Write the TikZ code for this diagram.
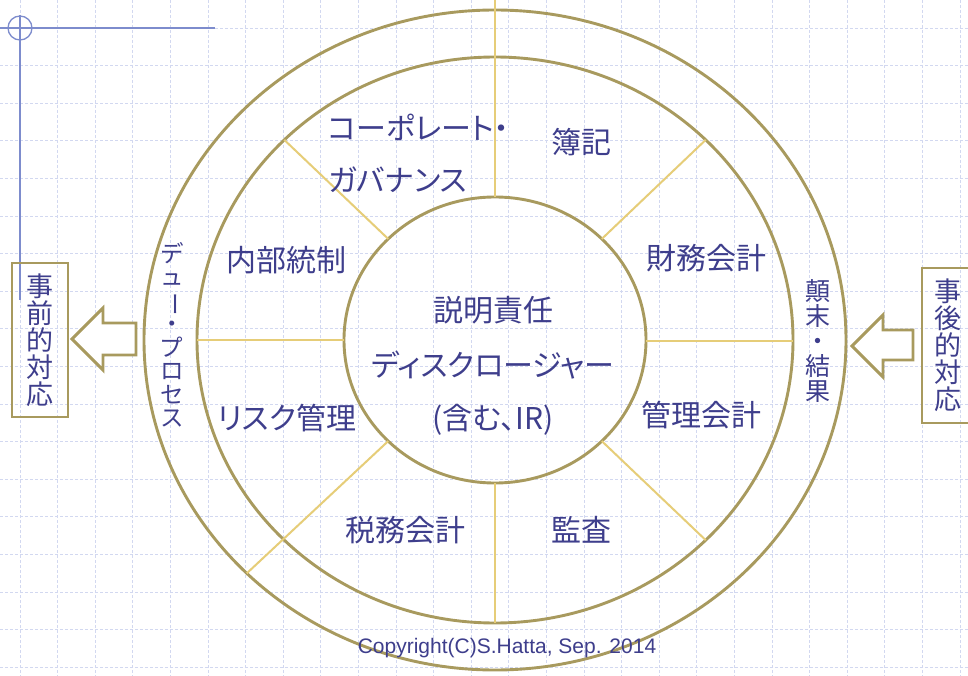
\documentclass[tikz,border=0pt]{standalone}
\usepackage{fontspec}
\setmainfont{Liberation Sans}
\newfontfamily\jp[RawFeature=+palt]{Noto Sans CJK JP}
\usepackage{graphicx}
\definecolor{ringc}{RGB}{168,154,94}
\definecolor{spokec}{RGB}{230,205,120}
\definecolor{txtc}{RGB}{62,62,140}
\definecolor{marginc}{RGB}{125,140,205}
\definecolor{gridc}{RGB}{210,216,240}
\begin{document}
\begin{tikzpicture}[x=1pt,y=-1pt,
  gridline/.style={draw=gridc,line width=0.9pt,dash pattern=on 3pt off 2pt},
  marginline/.style={draw=marginc,line width=1.3pt},
  ring/.style={draw=ringc,line width=2.9pt},
  spoke/.style={draw=spokec,line width=2pt},
  lbl/.style={text=txtc,inner sep=0pt,font=\jp\fontsize{30pt}{36pt}\selectfont},
  vlbl/.style={text=txtc,inner sep=0pt,align=center,font=\jp\fontsize{23.5pt}{23.5pt}\selectfont},
  vlblb/.style={text=txtc,inner sep=0pt,align=center,font=\jp\fontsize{25pt}{25pt}\selectfont},
  sidebox/.style={draw=ringc,line width=2.9pt,text=txtc,inner sep=0pt,align=center,
    font=\jp\fontsize{27pt}{27pt}\selectfont},
  blockarrow/.style={draw=ringc,line width=2.9pt,fill=white,line join=miter}]
\useasboundingbox (0,0) rectangle (968,676);
\fill[white] (0,0) rectangle (968,676);
\begin{scope}
\clip (0,0) rectangle (968,676);
% grid
\foreach \i in {0,...,25} \draw[gridline] ({20+37.6*\i},0) -- ({20+37.6*\i},676);
\foreach \j in {0,...,17} \draw[gridline] (0,{28+37.6*\j}) -- (968,{28+37.6*\j});
% margin lines
\draw[marginline] (0,28) -- (215,28);
\draw[marginline] (20,15) -- (20,300);
\draw[marginline] (20,28) circle[radius=12pt];
% rings
\coordinate (C) at (495,340);
\draw[ring] (C) ellipse[x radius=351pt,y radius=330pt];
\draw[ring] (C) ellipse[x radius=298pt,y radius=283pt];
\draw[ring] (C) ellipse[x radius=151pt,y radius=143pt];
% spoke end points
\coordinate (top0) at (495,0);      \coordinate (top1) at (495,197);
\coordinate (bot0) at (495,483);    \coordinate (bot1) at (495,623);
\coordinate (lef0) at (197,340);    \coordinate (lef1) at (344,340);
\coordinate (rig0) at (646,341);    \coordinate (rig1) at (793,341);
\coordinate (ul0) at (284.3,139.9); \coordinate (ul1) at (388.2,238.9);
\coordinate (ur0) at (705.7,139.9); \coordinate (ur1) at (601.8,238.9);
\coordinate (lr0) at (601.8,441.1); \coordinate (lr1) at (705.7,540.1);
\coordinate (ll0) at (388.2,441.1); \coordinate (ll1) at (246.8,573.3);
\foreach \a/\b in {top0/top1,bot0/bot1,lef0/lef1,rig0/rig1,ul0/ul1,ur0/ur1,lr0/lr1,ll0/ll1}
  \draw[spoke] (\a) -- (\b);
% labels
\node[lbl,anchor=west] (corp1) at (328,127) {コーポレート・};
\node[lbl,anchor=west] (corp2) at (328,180) {ガバナンス};
\node[lbl] (boki) at (581,142) {簿記};
\node[lbl] (zaimu) at (706,258) {財務会計};
\node[lbl] (naibu) at (286,260) {内部統制};
\node[lbl] (risk) at (287,418) {リスク管理};
\node[lbl] (kanri) at (701,415) {管理会計};
\node[lbl] (zeimu) at (405,530) {税務会計};
\node[lbl] (kansa) at (581,530) {監査};
\node[lbl] (setsumei) at (493,310) {説明責任};
\node[lbl] (disc) at (493,365) {ディスクロージャー};
\node[lbl] (ir) at (493,420) {(含む、IR)};
\node[vlbl] (due) at (172,335) {デ\\ュ\\\rotatebox[origin=c]{-90}{ー}\\・\\プ\\ロ\\セ\\ス};
\node[vlblb] (tenmatsu) at (818,341) {顛\\末\\・\\結\\果};
% side boxes
\node[sidebox,minimum width=56pt,minimum height=154pt] (pre) at (40,340) {事\\前\\的\\対\\応};
\node[sidebox,minimum width=52pt,minimum height=155pt] (post) at (948,345.5) {事\\後\\的\\対\\応};
% block arrows
\draw[blockarrow] (72,339) -- (103,308) -- (103,323) -- (136,323) -- (136,355) -- (103,355) -- (103,370) -- cycle;
\draw[blockarrow] (852,346) -- (883,315) -- (883,330) -- (913,330) -- (913,360) -- (883,360) -- (883,377) -- cycle;
% copyright
\node[text=txtc,inner sep=0pt,font=\fontsize{21pt}{25pt}\selectfont] (copy) at (507,648) {Copyright(C)S.Hatta, Sep. 2014};
\end{scope}
\end{tikzpicture}
\end{document}
